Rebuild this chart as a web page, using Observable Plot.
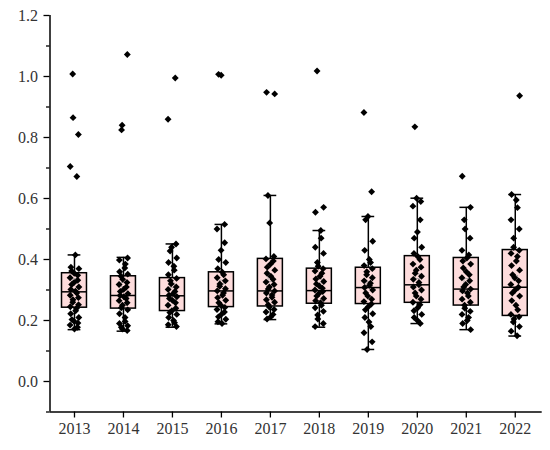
<!DOCTYPE html>
<html>
<head>
<meta charset="utf-8">
<script src="https://cdn.jsdelivr.net/npm/d3@7"></script>
<script src="https://cdn.jsdelivr.net/npm/@observablehq/plot@0.6"></script>
<style>
  html, body { margin: 0; padding: 0; background: #fff; }
  #chart svg { display: block; }
</style>
</head>
<body>
<div id="chart"></div>
<script>
// ---- data ----
const years = [2013, 2014, 2015, 2016, 2017, 2018, 2019, 2020, 2021, 2022];

// box statistics
const q1      = [0.242, 0.239, 0.231, 0.244, 0.246, 0.255, 0.254, 0.258, 0.249, 0.215];
const median  = [0.294, 0.282, 0.281, 0.297, 0.297, 0.298, 0.308, 0.317, 0.303, 0.309];
const q3      = [0.355, 0.345, 0.339, 0.358, 0.402, 0.370, 0.373, 0.411, 0.405, 0.431];
const whiskLo = [0.170, 0.165, 0.178, 0.189, 0.203, 0.178, 0.105, 0.190, 0.170, 0.149];
const whiskHi = [0.415, 0.407, 0.451, 0.515, 0.610, 0.495, 0.541, 0.601, 0.571, 0.613];
const meanVal = [0.330, 0.318, 0.315, 0.325, 0.335, 0.330, 0.320, 0.345, 0.330, 0.340];

// individual observations per year (estimated)
const v2013 = [0.172,0.178,0.185,0.192,0.198,0.203,0.21,0.222,0.232,0.24,0.245,0.252,0.26,0.268,0.275,0.283,0.29,0.296,0.302,0.31,0.318,0.325,0.332,0.34,0.348,0.355,0.362,0.37,0.375,0.415,0.672,0.705,0.81,0.865,1.008];
const v2014 = [0.167,0.172,0.178,0.183,0.19,0.197,0.21,0.222,0.235,0.242,0.25,0.258,0.265,0.272,0.278,0.282,0.288,0.295,0.302,0.31,0.318,0.325,0.335,0.345,0.352,0.36,0.372,0.385,0.398,0.405,0.825,0.84,1.072];
const v2015 = [0.18,0.186,0.193,0.2,0.21,0.22,0.226,0.232,0.24,0.25,0.258,0.266,0.272,0.278,0.283,0.288,0.295,0.302,0.31,0.32,0.33,0.338,0.35,0.365,0.378,0.39,0.405,0.428,0.44,0.451,0.86,0.995];
const v2016 = [0.19,0.196,0.204,0.212,0.22,0.228,0.236,0.243,0.25,0.258,0.266,0.275,0.283,0.29,0.297,0.304,0.312,0.32,0.33,0.34,0.35,0.358,0.37,0.39,0.4,0.43,0.455,0.5,0.515,1.004,1.007];
const v2017 = [0.205,0.212,0.22,0.228,0.236,0.244,0.252,0.26,0.268,0.276,0.284,0.29,0.297,0.303,0.31,0.318,0.326,0.335,0.345,0.355,0.365,0.375,0.385,0.395,0.402,0.41,0.52,0.61,0.943,0.948];
const v2018 = [0.18,0.19,0.205,0.218,0.23,0.242,0.25,0.258,0.265,0.272,0.28,0.288,0.295,0.3,0.306,0.313,0.32,0.328,0.336,0.345,0.355,0.362,0.37,0.378,0.39,0.42,0.44,0.47,0.495,0.555,0.571,1.018];
const v2019 = [0.105,0.13,0.16,0.18,0.195,0.21,0.222,0.235,0.245,0.254,0.262,0.27,0.28,0.29,0.3,0.308,0.315,0.322,0.33,0.34,0.35,0.36,0.37,0.38,0.39,0.4,0.43,0.46,0.53,0.541,0.622,0.882];
const v2020 = [0.19,0.2,0.21,0.22,0.232,0.242,0.252,0.26,0.27,0.28,0.29,0.3,0.31,0.317,0.325,0.335,0.345,0.355,0.365,0.375,0.385,0.4,0.41,0.42,0.44,0.47,0.49,0.53,0.575,0.59,0.601,0.835];
const v2021 = [0.17,0.19,0.2,0.21,0.22,0.23,0.24,0.25,0.26,0.27,0.28,0.29,0.297,0.303,0.31,0.318,0.33,0.34,0.35,0.36,0.372,0.385,0.395,0.405,0.415,0.43,0.47,0.5,0.53,0.571,0.673];
const v2022 = [0.15,0.165,0.18,0.195,0.205,0.212,0.22,0.235,0.25,0.265,0.28,0.29,0.3,0.309,0.318,0.33,0.34,0.35,0.365,0.38,0.395,0.41,0.42,0.43,0.44,0.47,0.5,0.53,0.57,0.595,0.613,0.937];

const yTicks = [0.0, 0.2, 0.4, 0.6, 0.8, 1.0, 1.2];
const yMinorTicks = [-0.1, 0.1, 0.3, 0.5, 0.7, 0.9, 1.1];

// ---- tables built from the arrays ----
const valueLists = [v2013, v2014, v2015, v2016, v2017, v2018, v2019, v2020, v2021, v2022];
const boxes = years.map((yr, i) => ({
  year: yr, q1: q1[i], med: median[i], q3: q3[i], lo: whiskLo[i], hi: whiskHi[i], mean: meanVal[i]
}));
const points = [];
valueLists.forEach((vals, i) => {
  vals.forEach((v, j) => {
    // deterministic small horizontal spread (jitter layout, not data)
    points.push({ year: years[i], value: v, jit: Math.sin(j * 2.39 + i) * 0.09 });
  });
});

const half = 0.255, cap = 0.13;
const xMin = 2012.5, xMax = 2022.55;

const chart = Plot.plot({
  width: 550,
  height: 450,
  marginLeft: 49.5,
  marginRight: 8.3,
  marginTop: 15,
  marginBottom: 38.5,
  style: { fontFamily: "'Liberation Serif', 'DejaVu Serif', serif", fontSize: "16px", color: "#333", background: "#fff" },
  x: { domain: [xMin, xMax], axis: null },
  y: { domain: [-0.1, 1.2], axis: null },
  marks: [
    // whiskers
    Plot.ruleX(boxes, { x: "year", y1: "lo", y2: "hi", stroke: "black", strokeWidth: 1.5 }),
    Plot.ruleY(boxes, { y: "lo", x1: d => d.year - cap, x2: d => d.year + cap, stroke: "black", strokeWidth: 1.5 }),
    Plot.ruleY(boxes, { y: "hi", x1: d => d.year - cap, x2: d => d.year + cap, stroke: "black", strokeWidth: 1.5 }),
    // boxes
    Plot.rect(boxes, { x1: d => d.year - half, x2: d => d.year + half, y1: "q1", y2: "q3", fill: "#fddcdc", stroke: "black", strokeWidth: 1.5 }),
    Plot.ruleY(boxes, { y: "med", x1: d => d.year - half, x2: d => d.year + half, stroke: "black", strokeWidth: 1.5 }),
    Plot.dot(boxes, { x: "year", y: "mean", symbol: "square", r: 2.6, stroke: "#999", fill: "none", strokeWidth: 0.8 }),
    // observations
    Plot.dot(points, { x: d => d.year + d.jit, y: "value", symbol: "diamond2", r: 3.1, fill: "black", stroke: "none" }),
    // axes
    Plot.ruleX([xMin], { stroke: "black", strokeWidth: 1.5 }),
    Plot.ruleY([-0.1], { stroke: "black", strokeWidth: 1.5 }),
    Plot.axisY({ ticks: yTicks, label: null, tickFormat: d => d.toFixed(1), tickSize: 6, tickPadding: 6, stroke: "black", strokeWidth: 1.3, fill: "#333", fontSize: 16 }),
    Plot.axisY({ ticks: yMinorTicks, label: null, tickFormat: () => "", tickSize: 3.5, stroke: "black", strokeWidth: 1.3 }),
    Plot.axisX({ ticks: years, label: null, tickFormat: d => String(d), tickSize: 6, tickPadding: 5, stroke: "black", strokeWidth: 1.3, fill: "#333", fontSize: 16 })
  ]
});
document.getElementById("chart").appendChild(chart);
</script>
</body>
</html>
